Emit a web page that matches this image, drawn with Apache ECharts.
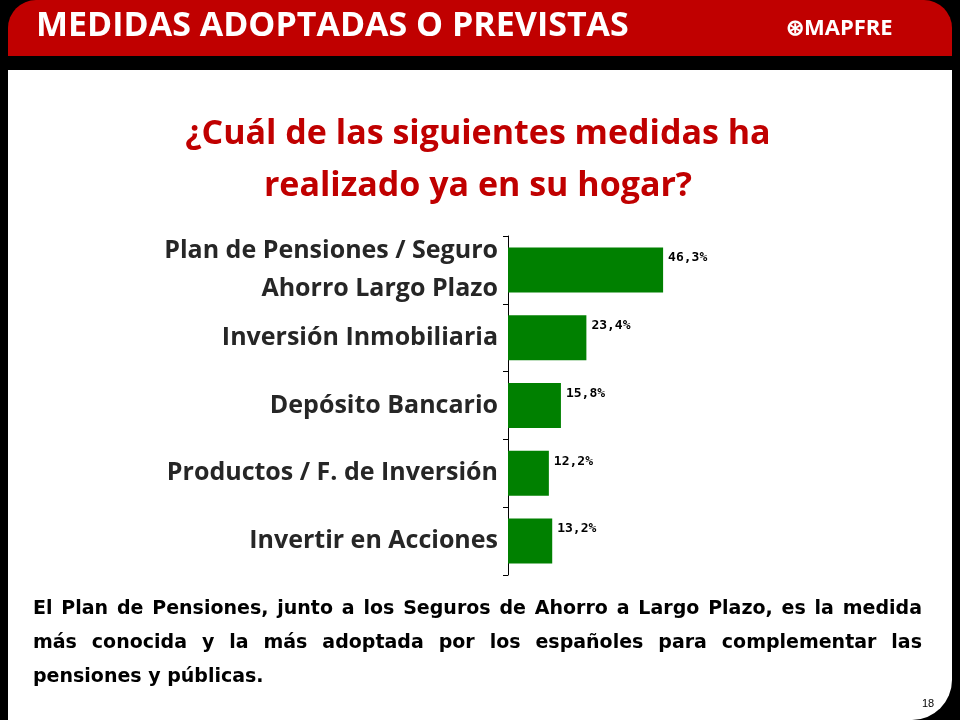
<!DOCTYPE html>
<html>
<head>
<meta charset="utf-8">
<script src="https://cdn.jsdelivr.net/npm/echarts@6/dist/echarts.min.js"></script>
<style>html,body{margin:0;padding:0;background:#000;}#chart{width:960px;height:720px;}</style>
</head>
<body>
<div id="chart"></div>
<script>
// 데이터
const categories = ['Plan de Pensiones / Seguro\nAhorro Largo Plazo', 'Inversión Inmobiliaria', 'Depósito Bancario', 'Productos / F. de Inversión', 'Invertir en Acciones'];
const values = [46.3, 23.4, 15.8, 12.2, 13.2];

const noteLines = [
    'El Plan de Pensiones, junto a los Seguros de Ahorro a Largo Plazo, es la medida',
    'más conocida y la más adoptada por los españoles para complementar las',
    'pensiones y públicas.'
];

const chart = echarts.init(document.getElementById('chart'));

// 하단 문단 양쪽 정렬
const noteFont = 'bold 19px "DejaVu Sans"';
const ctx = document.createElement('canvas').getContext('2d');
ctx.font = noteFont;
const noteGraphics = [];
noteLines.forEach((line, i) => {
    const y = 600 + i * 34;
    const words = line.split(' ');
    if (i === noteLines.length - 1) {
        noteGraphics.push({ type: 'text', x: 33, y: y, style: { text: line, fill: '#000', font: noteFont } });
        return;
    }
    const total = words.reduce((s, w) => s + ctx.measureText(w).width, 0);
    const gap = (922 - 33 - total) / (words.length - 1);
    let x = 33;
    words.forEach((w) => {
        noteGraphics.push({ type: 'text', x: x, y: y, style: { text: w, fill: '#000', font: noteFont } });
        x += ctx.measureText(w).width + gap;
    });
});

const option = {
    backgroundColor: '#000',
    animation: false,
    grid: { left: 508, right: 117, top: 236, bottom: 145 },
    xAxis: { type: 'value', min: 0, max: 100, show: false },
    yAxis: {
        type: 'category',
        inverse: true,
        data: categories,
        axisLine: { lineStyle: { color: '#000', width: 1 } },
        axisTick: { show: true, length: 5, lineStyle: { color: '#000' } },
        axisLabel: {
            color: '#262626', fontFamily: 'Open Sans', fontWeight: 'bold', fontSize: 25,
            lineHeight: 38, margin: 10
        }
    },
    series: [{
        type: 'bar',
        data: values,
        barWidth: 45,
        itemStyle: { color: '#008000' },
        label: {
            show: true, position: 'right', distance: 5,
            formatter: (p) => p.value.toFixed(1).replace('.', ',') + '%',
            fontFamily: 'DejaVu Sans Mono', fontWeight: 'bold', fontSize: 13, color: '#000',
            offset: [0, -12]
        }
    }],
    graphic: [
        { type: 'rect', z: -10, shape: { x: 8, y: 0, width: 944, height: 56, r: [28, 28, 0, 0] }, style: { fill: '#C00000' } },
        { type: 'rect', z: -10, shape: { x: 8, y: 70, width: 944, height: 650, r: [0, 0, 40, 0] }, style: { fill: '#fff' } },
        { type: 'text', x: 36, y: 9, style: { text: 'MEDIDAS ADOPTADAS O PREVISTAS', fill: '#fff', font: 'bold 34px "Liberation Sans Narrow", "Open Sans"' } },
        { type: 'text', x: 786, y: 18, style: { text: '⊛MAPFRE', fill: '#fff', font: 'bold 22px "Liberation Sans Narrow", "Open Sans"' } },
        { type: 'text', x: 478, y: 108, style: { text: '¿Cuál de las siguientes medidas ha\nrealizado ya en su hogar?', fill: '#C00000', align: 'center', lineHeight: 52, font: 'bold 34px "Open Sans"' } },
        { type: 'text', x: 922, y: 698, style: { text: '18', fill: '#000', font: '11px "Liberation Sans"' } }
    ].concat(noteGraphics)
};

chart.setOption(option);
</script>
</body>
</html>
